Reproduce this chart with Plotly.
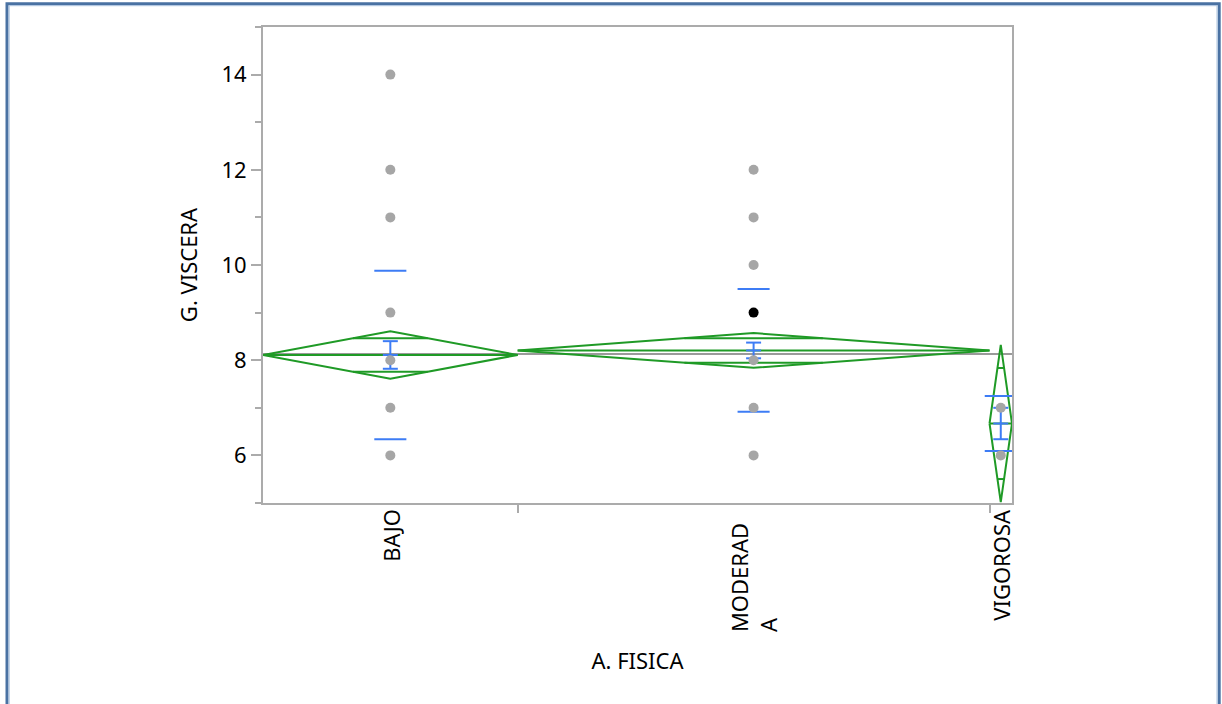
import math
import plotly.graph_objects as go

# ---------------- data ----------------
categories = ["BAJO", "MODERADA", "VIGOROSA"]
category_labels = ["BAJO", "MODERAD<br>A", "VIGOROSA"]
group_n = [34, 63, 3]                      # group widths (proportional to n)

bajo_values = [14, 12, 11, 9, 8, 7, 6]
moderada_values = [12, 11, 10, 8, 7, 6]
vigorosa_values = [7, 6]
selected_category = "MODERADA"
selected_values = [9]

group_means = [8.11, 8.205, 6.67]
ci_half = [0.50, 0.365, 1.65]             # 95% CI half-width (means diamonds)
std_dev = [1.77, 1.29, 0.58]
std_err = [0.29, 0.165, 0.33]
grand_mean = 8.13

y_ticks = [6, 8, 10, 12, 14]

# ---------------- styles ----------------
GREEN = "#1f9a26"
BLUE = "#3d7cf5"
POINT_GRAY = "#a6a6a6"
AXIS_GRAY = "#ababab"
FONT = "Noto Sans"
FS = 22

# geometry on the numeric x scale
total = sum(group_n)
lefts = [sum(group_n[:i]) for i in range(len(group_n))]
rights = [lefts[i] + group_n[i] for i in range(len(group_n))]
centers = [(lefts[i] + rights[i]) / 2 for i in range(len(group_n))]
SD_HALF = 2.14     # half-width of the std-dev marks (x units)
SE_HALF = 1.0      # half-width of the error-bar caps (x units)
S = math.sqrt(2) / 2

fig = go.Figure()

# grand mean line
fig.add_trace(go.Scatter(x=[0, total], y=[grand_mean, grand_mean], mode="lines",
                         line=dict(color="#9a9a9a", width=2), hoverinfo="skip",
                         showlegend=False))

# means diamonds
dx, dy = [], []
for i in range(len(categories)):
    x0, x1, xc = lefts[i], rights[i], centers[i]
    m, h = group_means[i], ci_half[i]
    dx += [x0, xc, x1, xc, x0, None, x0, x1, None]
    dy += [m, m + h, m, m - h, m, None, m, m, None]
    hw = (1 - S) * (x1 - x0) / 2
    for sgn in (1, -1):
        dx += [xc - hw, xc + hw, None]
        dy += [m + sgn * S * h, m + sgn * S * h, None]
fig.add_trace(go.Scatter(x=dx, y=dy, mode="lines", line=dict(color=GREEN, width=2),
                         hoverinfo="skip", showlegend=False))

# std dev lines and standard error bars
bx, by = [], []
for i in range(len(categories)):
    xc, m = centers[i], group_means[i]
    sd, se = std_dev[i], std_err[i]
    for v in (m + sd, m - sd):
        bx += [xc - SD_HALF, xc + SD_HALF, None]
        by += [v, v, None]
    bx += [xc, xc, None]
    by += [m - se, m + se, None]
    for v in (m + se, m, m - se):
        bx += [xc - SE_HALF, xc + SE_HALF, None]
        by += [v, v, None]
fig.add_trace(go.Scatter(x=bx, y=by, mode="lines", line=dict(color=BLUE, width=2),
                         hoverinfo="skip", showlegend=False))

# data points
values_by_cat = [bajo_values, moderada_values, vigorosa_values]
px, py = [], []
for i, vals in enumerate(values_by_cat):
    px += [centers[i]] * len(vals)
    py += vals
fig.add_trace(go.Scatter(x=px, y=py, mode="markers",
                         marker=dict(size=10, color=POINT_GRAY), showlegend=False))
sel_i = categories.index(selected_category)
fig.add_trace(go.Scatter(x=[centers[sel_i]] * len(selected_values), y=selected_values,
                         mode="markers", marker=dict(size=10, color="black"),
                         showlegend=False))

# category labels under the axis
for i, lab in enumerate(category_labels):
    fig.add_annotation(x=centers[i], xref="x",
                       y=(-4 / 476) if "<br>" not in lab else (-18 / 476),
                       yref="paper", text=lab, textangle=-90, showarrow=False,
                       xanchor="center", yanchor="top", align="left",
                       font=dict(family=FONT, size=FS, color="black"))

fig.update_xaxes(range=[0, total], tickvals=rights[:-1], showticklabels=False,
                 ticks="outside", ticklen=8, tickwidth=2, tickcolor=AXIS_GRAY,
                 showline=True, linecolor=AXIS_GRAY, linewidth=2, mirror=True,
                 showgrid=False, zeroline=False,
                 title=dict(text="A. FISICA", standoff=142,
                            font=dict(family=FONT, size=FS, color="black")))
fig.update_yaxes(range=[5, 15], tickvals=y_ticks, ticks="outside", ticklen=10,
                 tickwidth=2, tickcolor=AXIS_GRAY,
                 minor=dict(dtick=1, ticks="outside", ticklen=6, tickwidth=2,
                            tickcolor=AXIS_GRAY),
                 showline=True, linecolor=AXIS_GRAY, linewidth=2, mirror=True,
                 showgrid=False, zeroline=False,
                 tickfont=dict(family=FONT, size=FS, color="black"),
                 title=dict(text="G. VISCERA", standoff=18,
                            font=dict(family=FONT, size=FS, color="black")))

# outer frame
W, H = 1222, 704
L, R, T, B = 263, 210, 27, 201
pw, ph = W - L - R, H - T - B
def pxx(x):
    return (x - L) / pw
def pxy(y):
    return (H - B - y) / ph
fig.add_shape(type="rect", xref="paper", yref="paper",
              x0=pxx(7), x1=pxx(1219.2), y0=pxy(3.7), y1=pxy(730),
              line=dict(color="#4a72a3", width=3), layer="above")
fig.add_shape(type="rect", xref="paper", yref="paper",
              x0=pxx(9.2), x1=pxx(1217), y0=pxy(5.7), y1=pxy(730),
              line=dict(color="#aac3df", width=1), layer="above")

fig.update_layout(width=W, height=H, autosize=False,
                  margin=dict(l=L, r=R, t=T, b=B),
                  paper_bgcolor="white", plot_bgcolor="white",
                  font=dict(family=FONT, size=FS, color="black"),
                  showlegend=False)

fig.write_html("out.html")
